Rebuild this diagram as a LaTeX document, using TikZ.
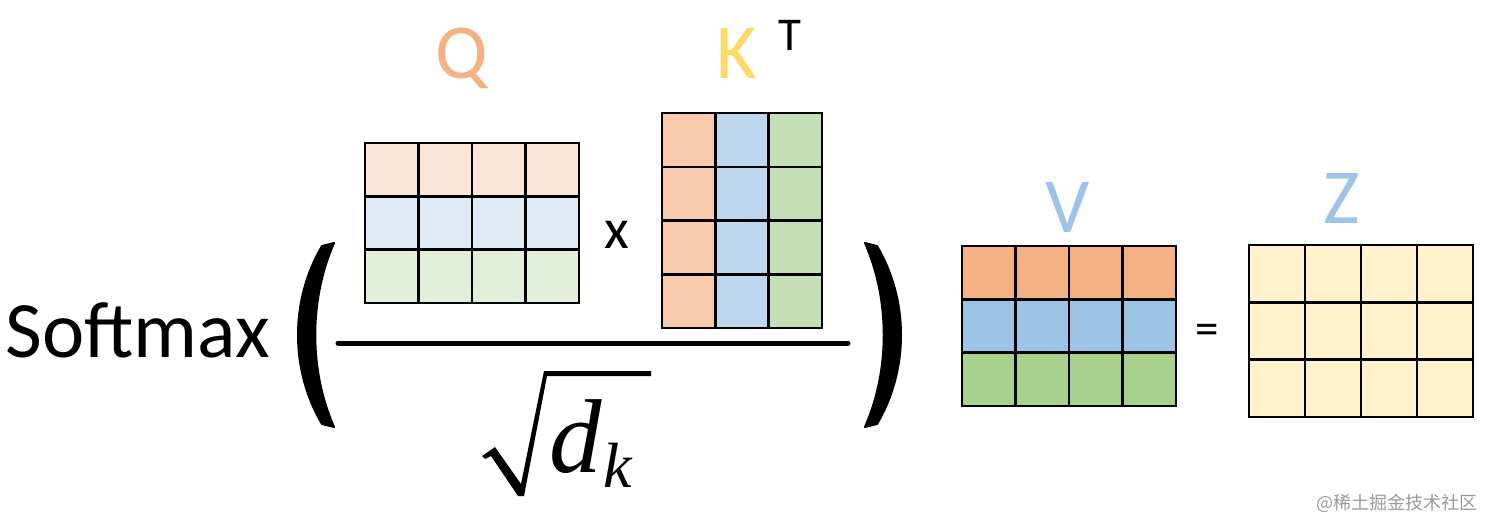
\documentclass[tikz,border=0pt]{standalone}
\usepackage{fontspec}
\setmainfont{Carlito}
\newfontfamily\timesfont{Liberation Serif}
\newfontfamily\cjkfont{Noto Sans CJK SC}
\usepackage{tikz}
\usetikzlibrary{positioning}
\definecolor{qOrange}{HTML}{FBE5D6}
\definecolor{qBlue}{HTML}{DEEBF7}
\definecolor{qGreen}{HTML}{E2F0D9}
\definecolor{kOrange}{HTML}{F8CBAD}
\definecolor{kBlue}{HTML}{BDD7EE}
\definecolor{kGreen}{HTML}{C5E0B4}
\definecolor{vOrange}{HTML}{F4B183}
\definecolor{vBlue}{HTML}{9DC3E6}
\definecolor{vGreen}{HTML}{A9D18E}
\definecolor{zYellow}{HTML}{FFF2CC}
\definecolor{kGold}{HTML}{FFD966}

\begin{document}
\begin{tikzpicture}[x=1pt, y=-1pt,
  cell/.style={draw, line width=2.5pt, inner sep=0pt},
  biglbl/.style={font=\fontsize{78}{80}\selectfont},
  paren/.style={fill=black, draw=black, line width=2pt, line join=round}]
\useasboundingbox (0,0) rectangle (1494,530);
% Q: 3 rows x 4 cols, one colour per row
\foreach \r/\fc in {1/qOrange,2/qBlue,3/qGreen}
  \foreach \c in {1,...,4}
    \node[cell, fill=\fc, minimum width=53.5pt, minimum height=53.3pt] (q\r\c)
      at ({365+53.5*(\c-0.5)},{143+53.3*(\r-0.5)}) {};
% K^T: 4 rows x 3 cols, one colour per column
\foreach \c/\fc in {1/kOrange,2/kBlue,3/kGreen}
  \foreach \r in {1,...,4}
    \node[cell, fill=\fc, minimum width=53.3pt, minimum height=53.75pt] (k\r\c)
      at ({662+53.3*(\c-0.5)},{113+53.75*(\r-0.5)}) {};
% V: 3 rows x 4 cols
\foreach \r/\fc in {1/vOrange,2/vBlue,3/vGreen}
  \foreach \c in {1,...,4}
    \node[cell, fill=\fc, minimum width=53.5pt, minimum height=53.3pt] (v\r\c)
      at ({962+53.5*(\c-0.5)},{246+53.3*(\r-0.5)}) {};
% Z: 3 rows x 4 cols
\foreach \r in {1,...,3}
  \foreach \c in {1,...,4}
    \node[cell, fill=zYellow, minimum width=56pt, minimum height=57.3pt] (z\r\c)
      at ({1249+56*(\c-0.5)},{245+57.3*(\r-0.5)}) {};
% labels
\node[biglbl, text=vOrange, anchor=base] (qlbl) at (462,78) {Q};
\node[biglbl, text=kGold] (klbl) at (737,53) {K};
\node[font=\fontsize{47}{48}\selectfont] (tlbl) at (790,35) {T};
\node[biglbl, text=vBlue] (vlbl) at (1068,207) {V};
\node[biglbl, text=vBlue] (zlbl) at (1342,198) {Z};
\node[font=\fontsize{57}{57}\selectfont] (times) at (617,235) {x};
\node[font=\fontsize{47}{48}\selectfont] (eq) at (1207,334) {=};
\node[font=\fontsize{80}{80}\selectfont, anchor=base west] (softmax) at (2,357) {Softmax};
% fraction bar and sqrt(d_k)
\coordinate (barL) at (338,343);
\coordinate (barR) at (848,343);
\draw[line width=5pt, line cap=round] (barL) -- (barR);
\fill (482,456) -- (495,447) -- (521,484) -- (544,371) -- (651,371) -- (651,376)
  -- (547,376) -- (524,496) -- (518,496) -- (491,456) -- (485,459) -- cycle;
\node[font=\timesfont\itshape\fontsize{105}{105}\selectfont, anchor=base west, inner sep=0pt] (dsym) at (549,472) {d};
\node[font=\timesfont\itshape\fontsize{64}{64}\selectfont, anchor=base west, inner sep=0pt] (ksub) at (603,487) {k};
% big parentheses
\filldraw[paren] (334,243) .. controls (309,300) and (309,370) .. (334,427)
  -- (322,424) .. controls (290,370) and (290,300) .. (322,246) -- cycle;
\filldraw[paren] (865,243) .. controls (890,300) and (890,370) .. (865,427)
  -- (877,424) .. controls (909,370) and (909,300) .. (877,246) -- cycle;
\node[font=\cjkfont\fontsize{18}{18}\selectfont, text=black!40] (credit) at (1397,503) {@稀土掘金技术社区};
\end{tikzpicture}
\end{document}
